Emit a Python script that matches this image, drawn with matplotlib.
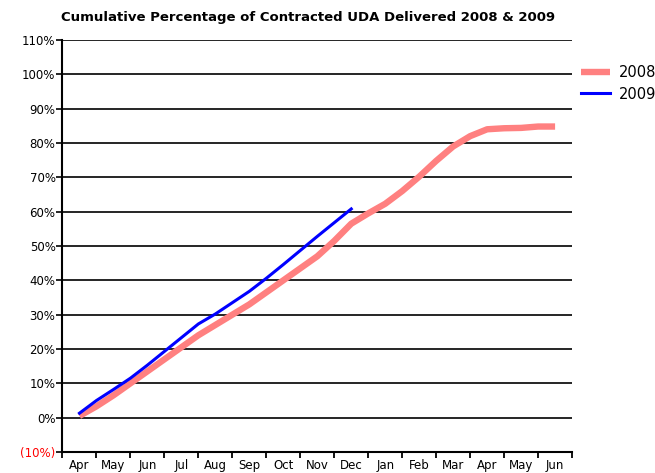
import matplotlib
matplotlib.use('Agg')
import matplotlib.pyplot as plt
import matplotlib as mp

mp.rcParams['font.family'] = 'DejaVu Sans'

months = ['Apr', 'May', 'Jun', 'Jul', 'Aug', 'Sep', 'Oct', 'Nov', 'Dec',
          'Jan', 'Feb', 'Mar', 'Apr', 'May', 'Jun']

# month index (0 = Apr 2008), half month steps
m08 = [0, 0.5, 1, 1.5, 2, 2.5, 3, 3.5, 4, 4.5, 5, 5.5, 6, 6.5, 7, 7.5,
       8, 8.5, 9, 9.5, 10, 10.5, 11, 11.5, 12, 12.5, 13, 13.5, 14]
pct08 = [0.5, 3.3, 6.5, 10, 13.5, 17, 20.5, 24, 27, 30, 33, 36.5, 40, 43.5, 47, 51.5,
         56.5, 59.5, 62.3, 66, 70.2, 74.8, 79, 82, 84, 84.3, 84.4, 84.8, 84.8]

m09 = [0, 0.5, 1, 1.5, 2, 2.5, 3, 3.5, 4, 4.5, 5, 5.5, 6, 6.5, 7, 7.5, 8]
pct09 = [1.3, 5, 8.2, 11.5, 15.3, 19.3, 23.3, 27.3, 30.2, 33.5, 36.8, 40.6,
         44.6, 48.7, 52.8, 56.8, 60.8]

yticks = list(range(-10, 111, 10))

fig = plt.figure(figsize=(6.55, 4.73), dpi=100)
ax = fig.add_axes([0.0954, 0.0444, 0.778, 0.871])

ax.plot([m + 0.5 for m in m08], pct08, color='#ff8080', lw=4.6,
        solid_capstyle='butt', label='2008', zorder=3)
ax.plot([m + 0.5 for m in m09], pct09, color='#0000ff', lw=2.2,
        label='2009', zorder=4)

ax.set_xlim(0, 15)
ax.set_ylim(-10, 110)

ax.set_xticks(range(0, 16))
ax.set_xticklabels([])
ax.set_xticks([i + 0.5 for i in range(15)], minor=True)
ax.set_xticklabels(months, minor=True, fontsize=8.5)
ax.tick_params(axis='x', which='major', length=4, width=1.3, direction='out')
ax.tick_params(axis='x', which='minor', length=0, pad=5)

ax.set_yticks(yticks)
ax.set_yticklabels(['(10%)' if v < 0 else '{}%'.format(v) for v in yticks], fontsize=8.5)
ax.get_yticklabels()[0].set_color('red')
ax.tick_params(axis='y', length=4, width=1.2, pad=1)

ax.yaxis.grid(True, color='black', lw=1.2)
ax.set_axisbelow(True)
for s in ['top', 'right']:
    ax.spines[s].set_visible(False)
ax.spines['left'].set_linewidth(1.5)
ax.spines['bottom'].set_linewidth(1.5)

fig.text(0.47, 0.962, 'Cumulative Percentage of Contracted UDA Delivered 2008 & 2009',
         ha='center', va='center', fontsize=9.5, fontweight='semibold')

fig.legend(loc='upper left', bbox_to_anchor=(0.878, 0.875), frameon=False,
           fontsize=10.5, handlelength=2.0, handletextpad=0.6, labelspacing=0.45,
           borderaxespad=0)

fig.savefig('out.png', dpi=100)
